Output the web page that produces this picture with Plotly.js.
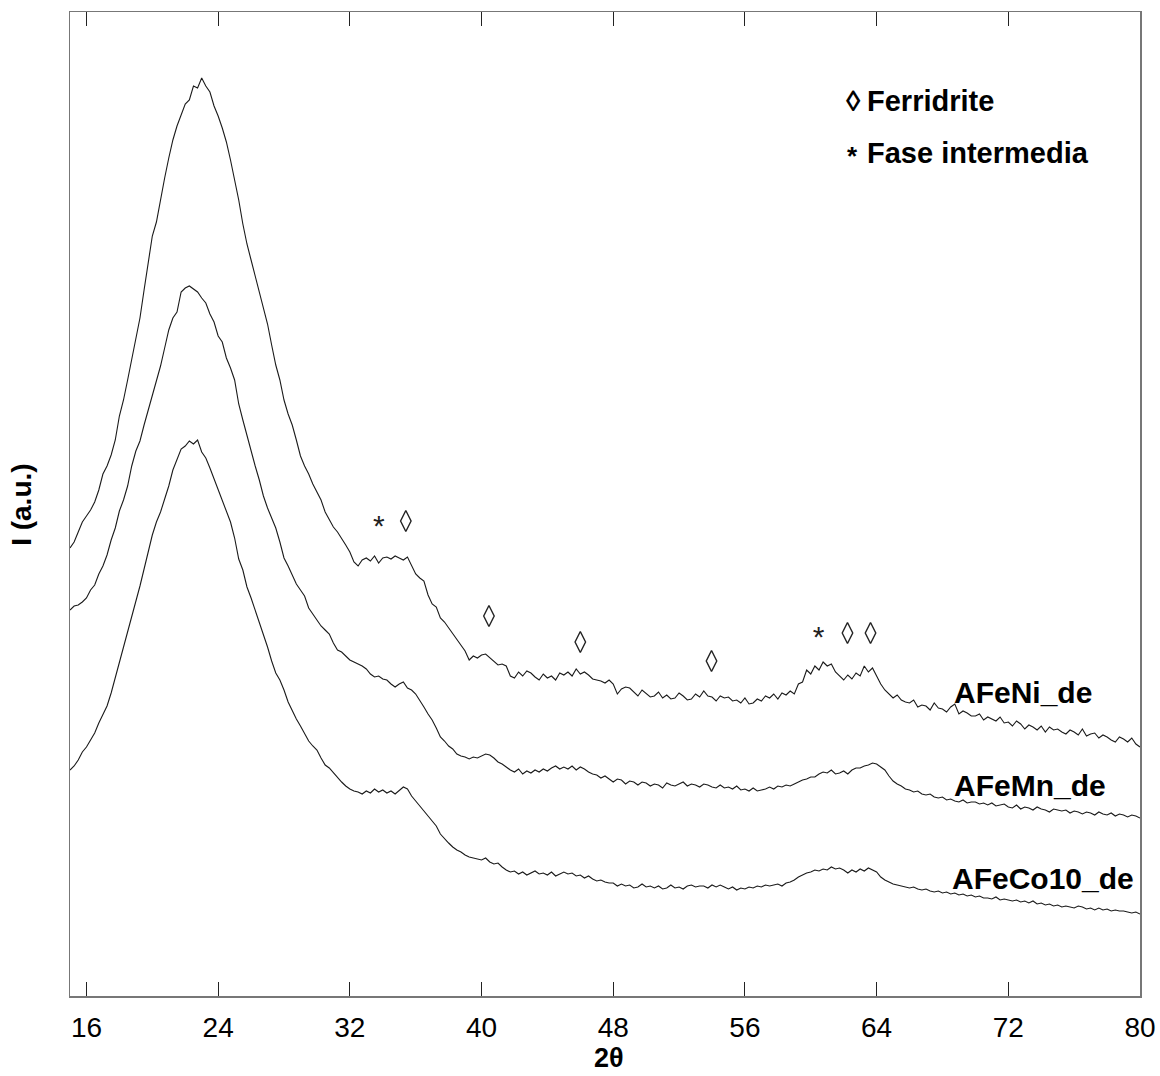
<!DOCTYPE html>
<html>
<head>
<meta charset="utf-8">
<script src="https://cdn.plot.ly/plotly-3.0.1.min.js"></script>
<style>
  html, body { margin: 0; padding: 0; background: #ffffff; }
  #chart { width: 1160px; height: 1076px; }
</style>
</head>
<body>
<div id="chart"></div>
<script>
// 2-theta grid: 15° to 80°, 0.25° step
var twoThetaStart = 15;
var twoThetaStep = 0.25;

// Intensities (a.u.), offset traces as drawn
var AFeNi_de = [
  452,458,468,478,484,490,498,510,526,534,545,560,584,600,620,642,664,682,710,738,
  764,778,802,822,842,860,874,886,896,900,914,912,922,914,908,894,884,872,858,840,
  820,800,776,756,740,724,708,694,676,655,635,620,600,586,575,560,544,534,526,516,
  508,500,488,480,473,468,462,455,448,438,434,440,442,439,444,437,442,443,441,444,
  442,440,443,434,426,422,419,405,396,393,382,378,372,366,360,355,349,340,344,342,
  345,346,342,338,335,336,334,324,322,328,324,329,327,323,320,326,322,324,320,327,
  325,328,324,331,326,328,325,321,320,319,317,320,316,306,311,313,312,308,304,310,
  306,303,304,308,302,305,301,302,307,304,300,301,306,303,309,304,303,299,304,302,
  303,299,300,297,302,296,297,301,299,304,302,306,301,307,305,309,306,316,318,330,
  326,334,330,338,334,336,328,324,320,325,321,327,324,334,328,332,324,316,310,306,
  302,305,300,298,297,300,293,295,294,290,297,292,291,288,293,296,286,289,287,284,
  284,286,280,283,281,279,283,277,278,274,279,276,271,275,273,270,274,268,273,270,
  271,268,266,270,268,265,271,264,266,267,262,265,263,260,258,263,261,258,262,256,
  253
];
var AFeMn_de = [
  390,394,395,398,402,410,415,426,434,445,460,472,489,500,514,534,549,559,575,590,
  604,619,634,652,670,682,688,708,712,714,711,708,702,697,686,678,664,658,642,632,
  620,596,580,564,550,534,520,504,492,482,472,458,442,434,425,416,410,404,392,386,
  380,374,370,366,357,350,348,344,340,338,336,334,331,326,323,324,321,320,316,313,
  316,318,312,310,306,300,293,286,280,272,263,259,254,251,246,244,243,241,243,242,
  244,246,245,242,238,236,233,230,228,231,226,229,227,230,228,231,229,232,234,231,
  233,231,234,230,233,231,228,226,225,222,224,221,218,221,220,216,219,218,215,218,
  217,214,216,215,212,217,215,214,216,218,214,216,215,213,216,215,213,212,215,212,
  213,211,214,210,211,209,212,209,210,211,213,211,214,213,215,214,216,218,220,221,
  223,223,226,228,227,230,226,227,229,226,230,232,232,234,235,237,236,233,230,224,
  219,216,214,211,210,208,209,206,205,206,203,202,203,200,201,199,198,200,197,198,
  198,196,197,195,197,194,195,196,193,192,195,191,193,192,190,193,191,190,188,191,
  190,189,190,187,189,188,186,188,187,185,188,186,185,187,184,186,185,183,185,184,
  182
];
var AFeCo10_de = [
  230,234,240,248,253,260,267,277,286,294,307,322,339,352,367,384,399,414,431,449,
  465,478,488,501,514,530,540,551,554,559,556,560,548,542,532,521,510,500,488,478,
  462,441,430,413,402,390,376,364,353,339,327,320,310,298,289,281,274,267,259,254,
  250,242,235,232,227,222,218,214,211,209,208,206,209,207,211,208,210,207,209,206,
  210,213,211,204,199,194,188,184,178,174,166,161,157,153,150,148,145,143,142,141,
  140,142,138,136,137,133,130,128,129,126,128,125,127,129,126,127,125,128,124,126,
  128,126,127,124,125,122,124,121,119,120,118,117,117,114,116,114,115,112,113,116,
  113,114,112,114,111,112,115,112,113,111,114,115,113,114,114,112,115,113,115,113,
  111,113,110,112,111,113,112,114,113,115,114,115,116,114,117,118,120,123,125,127,
  128,130,129,131,130,133,131,132,130,127,130,128,131,129,132,130,128,123,120,118,
  116,115,114,113,112,113,111,110,111,109,108,109,107,108,106,107,105,106,104,105,
  103,104,102,102,101,103,100,101,100,99,100,98,99,97,99,96,97,95,96,94,
  95,93,94,93,92,94,93,91,92,90,92,90,91,89,90,89,89,88,87,88,
  86
];

var seriesNames = ['AFeNi_de', 'AFeMn_de', 'AFeCo10_de'];
var seriesValues = [AFeNi_de, AFeMn_de, AFeCo10_de];
var seriesLabelX = [68.6, 68.6, 68.45];
var seriesLabelY = [308, 215, 122];

// Phase markers above the pattern
var ferrihydriteX = [35.4, 40.45, 46.0, 53.97, 62.23, 63.63];
var ferrihydriteY = [479, 384, 358, 339, 367, 367];
var intermediateX = [33.76, 60.47];
var intermediateY = [479, 368];

// Key (symbol + phase name)
var keyNames = ['Ferridrite', 'Fase intermedia'];
var keySymbols = ['\u25CA', '*'];
var keyY = [899, 847];

var xTickVals = [16, 24, 32, 40, 48, 56, 64, 72, 80];

function grid(n) {
  var out = [];
  for (var i = 0; i < n; i++) out.push(twoThetaStart + i * twoThetaStep);
  return out;
}

var FONT = 'Liberation Sans, Arial, sans-serif';

var traces = [];
seriesValues.forEach(function (vals, k) {
  traces.push({
    type: 'scatter', mode: 'lines',
    x: grid(vals.length), y: vals,
    name: seriesNames[k],
    line: { color: '#1a1a1a', width: 1.1 },
    hoverinfo: 'skip', showlegend: false
  });
});
traces.push({
  type: 'scatter', mode: 'markers',
  x: ferrihydriteX, y: ferrihydriteY,
  marker: { symbol: 'diamond-tall-open', size: 15, color: '#222', line: { color: '#222', width: 1.4 } },
  hoverinfo: 'skip', showlegend: false
});
traces.push({
  type: 'scatter', mode: 'text',
  x: intermediateX, y: intermediateY.map(function (v) { return v - 7; }),
  text: intermediateX.map(function () { return '*'; }),
  textposition: 'middle center',
  textfont: { family: FONT, size: 30, color: '#222' },
  hoverinfo: 'skip', showlegend: false
});

var annotations = [];
seriesNames.forEach(function (nm, k) {
  annotations.push({
    x: seriesLabelX[k], y: seriesLabelY[k], xref: 'x', yref: 'y',
    text: '<b>' + nm + '</b>', showarrow: false, xanchor: 'left', yanchor: 'middle',
    font: { family: FONT, size: 30, color: '#000' }
  });
});
// key symbols
annotations.push({
  x: 62.0, y: keyY[0], xref: 'x', yref: 'y', text: '<b>' + keySymbols[0] + '</b>',
  showarrow: false, xanchor: 'left', yanchor: 'middle',
  font: { family: FONT, size: 29, color: '#000' }
});
annotations.push({
  x: 62.08, y: keyY[1] - 3, xref: 'x', yref: 'y', text: '<b>' + keySymbols[1] + '</b>',
  showarrow: false, xanchor: 'left', yanchor: 'middle',
  font: { family: FONT, size: 26, color: '#000' }
});
keyNames.forEach(function (nm, k) {
  annotations.push({
    x: 63.3, y: keyY[k], xref: 'x', yref: 'y', text: '<b>' + nm + '</b>',
    showarrow: false, xanchor: 'left', yanchor: 'middle',
    font: { family: FONT, size: 29, color: '#000' }
  });
});
annotations.push({
  x: -0.045, y: 0.499, xref: 'paper', yref: 'paper', text: '<b>I (a.u.)</b>',
  textangle: -90, showarrow: false, xanchor: 'center', yanchor: 'middle',
  font: { family: FONT, size: 28, color: '#000' }
});
annotations.push({
  x: 0.5037, y: -0.063, xref: 'paper', yref: 'paper', text: '<b>2\u03B8</b>',
  showarrow: false, xanchor: 'center', yanchor: 'middle',
  font: { family: FONT, size: 27, color: '#000' }
});

var layout = {
  width: 1160, height: 1076,
  margin: { l: 70, r: 20, t: 12, b: 80 },
  paper_bgcolor: '#ffffff', plot_bgcolor: '#ffffff',
  showlegend: false,
  xaxis: {
    range: [15, 80], tickvals: xTickVals, ticktext: xTickVals.map(String),
    ticks: 'inside', ticklen: 14, tickwidth: 1, tickcolor: '#222',
    showline: true, linecolor: '#777', linewidth: 1.5, mirror: 'ticks',
    showgrid: false, zeroline: false, ticklabelstandoff: 6,
    tickfont: { family: FONT, size: 28, color: '#000' }
  },
  yaxis: {
    range: [4, 988], showticklabels: false, ticks: '',
    showline: true, linecolor: '#777', linewidth: 1.5, mirror: true,
    showgrid: false, zeroline: false
  },
  annotations: annotations
};

Plotly.newPlot('chart', traces, layout, { staticPlot: true, displayModeBar: false });
</script>
</body>
</html>
